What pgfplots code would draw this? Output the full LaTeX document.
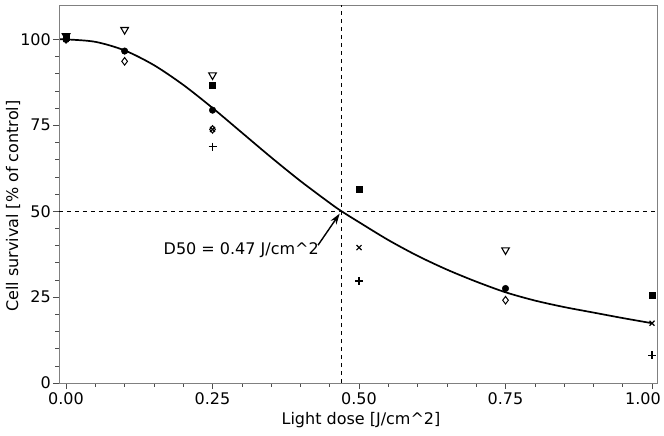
\documentclass[border=0pt]{standalone}
\usepackage{pgfplots}
\pgfplotsset{compat=1.18}
\usepackage{fontspec}
\setmainfont{DejaVu Sans}
\usetikzlibrary{arrows.meta}
\newcommand{\lblfont}{\fontsize{16bp}{19bp}\selectfont}
\begin{document}
\begin{tikzpicture}
\begin{axis}[
  scale only axis, width=598bp, height=378bp,
  xmin=-0.012, xmax=1.0085, ymin=0, ymax=110,
  clip=false,
  axis line style={black!50, line width=0.8bp},
  xtick={0,0.25,0.5,0.75,1}, xticklabels={0.00,0.25,0.50,0.75,\hspace*{-18bp}1.00},
  ytick={0,25,50,75,100}, yticklabels={0,25,50,75,100},
  minor x tick num=4, minor y tick num=4,
  tick align=outside, tick pos=left,
  major tick length=6bp, minor tick length=3.5bp,
  every tick/.style={black!70, line width=0.6bp},
  ticklabel style={font=\lblfont},
  yticklabel style={inner sep=2bp},
  /pgf/number format/assume math mode=true,
  xlabel={Light dose [J/cm\textasciicircum2]},
  ylabel={Cell survival [\% of control]},
  label style={font=\lblfont},
  x label style={at={(axis description cs:0.505,-0.098)}, anchor=center},
  y label style={at={(axis description cs:-0.0769,0.468)}, anchor=center},
]
% reference lines
\addplot[black, dashed, dash pattern=on 4bp off 4bp, line width=0.7bp] coordinates {(-0.012,50) (1.0085,50)};
\addplot[black, dashed, dash pattern=on 4bp off 4bp, line width=0.7bp] coordinates {(0.47,0) (0.47,110)};
% fitted curve
\addplot[black, line width=1.7bp, smooth] coordinates {
(-0.01,100) (0,100) (0.05,99.28) (0.1,96.78) (0.15,92.50) (0.2,86.76) (0.25,80.04)
(0.3,72.86) (0.35,65.67) (0.4,58.78) (0.45,52.39) (0.47,50) (0.5,46.8)
(0.55,41.6) (0.6,37.0) (0.65,33.0) (0.7,29.5) (0.75,26.4) (0.8,24.0)
(0.85,22.1) (0.9,20.5) (0.95,18.9) (1.0,17.4)};
% data series
\addplot[only marks, mark=triangle, mark size=4.4bp, mark options={rotate=180, fill=white, line width=1.1bp}] coordinates {(0,101) (0.1,102.8) (0.25,89.6) (0.75,38.7)};
\addplot[only marks, mark=square*, mark size=3bp] coordinates {(0,100.5) (0.25,86.7) (0.5,56.4) (1.0,25.6)};
\addplot[only marks, mark=*, mark size=3.3bp] coordinates {(0,100) (0.1,96.6) (0.25,79.4) (0.75,27.5)};
\addplot[only marks, mark=diamond, mark size=3.8bp, mark options={fill=white, line width=1bp}] coordinates {(0,100) (0.1,93.6) (0.25,73.8) (0.75,24.1)};
\addplot[only marks, mark=x, mark size=3.5bp, mark options={line width=1.2bp}] coordinates {(0,100) (0.25,73.8) (0.5,39.4) (1.0,17.4)};
\addplot[only marks, mark=+, mark size=4bp, mark options={line width=1.2bp}] coordinates {(0,100) (0.25,68.8) (0.5,29.7) (1.0,8.1)};
% annotation
\draw[-{Stealth[length=11bp,width=7bp]}, line width=1.4bp] (axis cs:0.430,40.1) -- (axis cs:0.467,49.3);
\node[font=\lblfont] at (axis cs:0.299,38.7) {D50 = 0.47 J/cm\textasciicircum2};
\end{axis}
\pgfresetboundingbox
\path (current axis.south west) ++(-59bp,-53bp) rectangle ++(664bp,436bp);
\end{tikzpicture}
\end{document}
